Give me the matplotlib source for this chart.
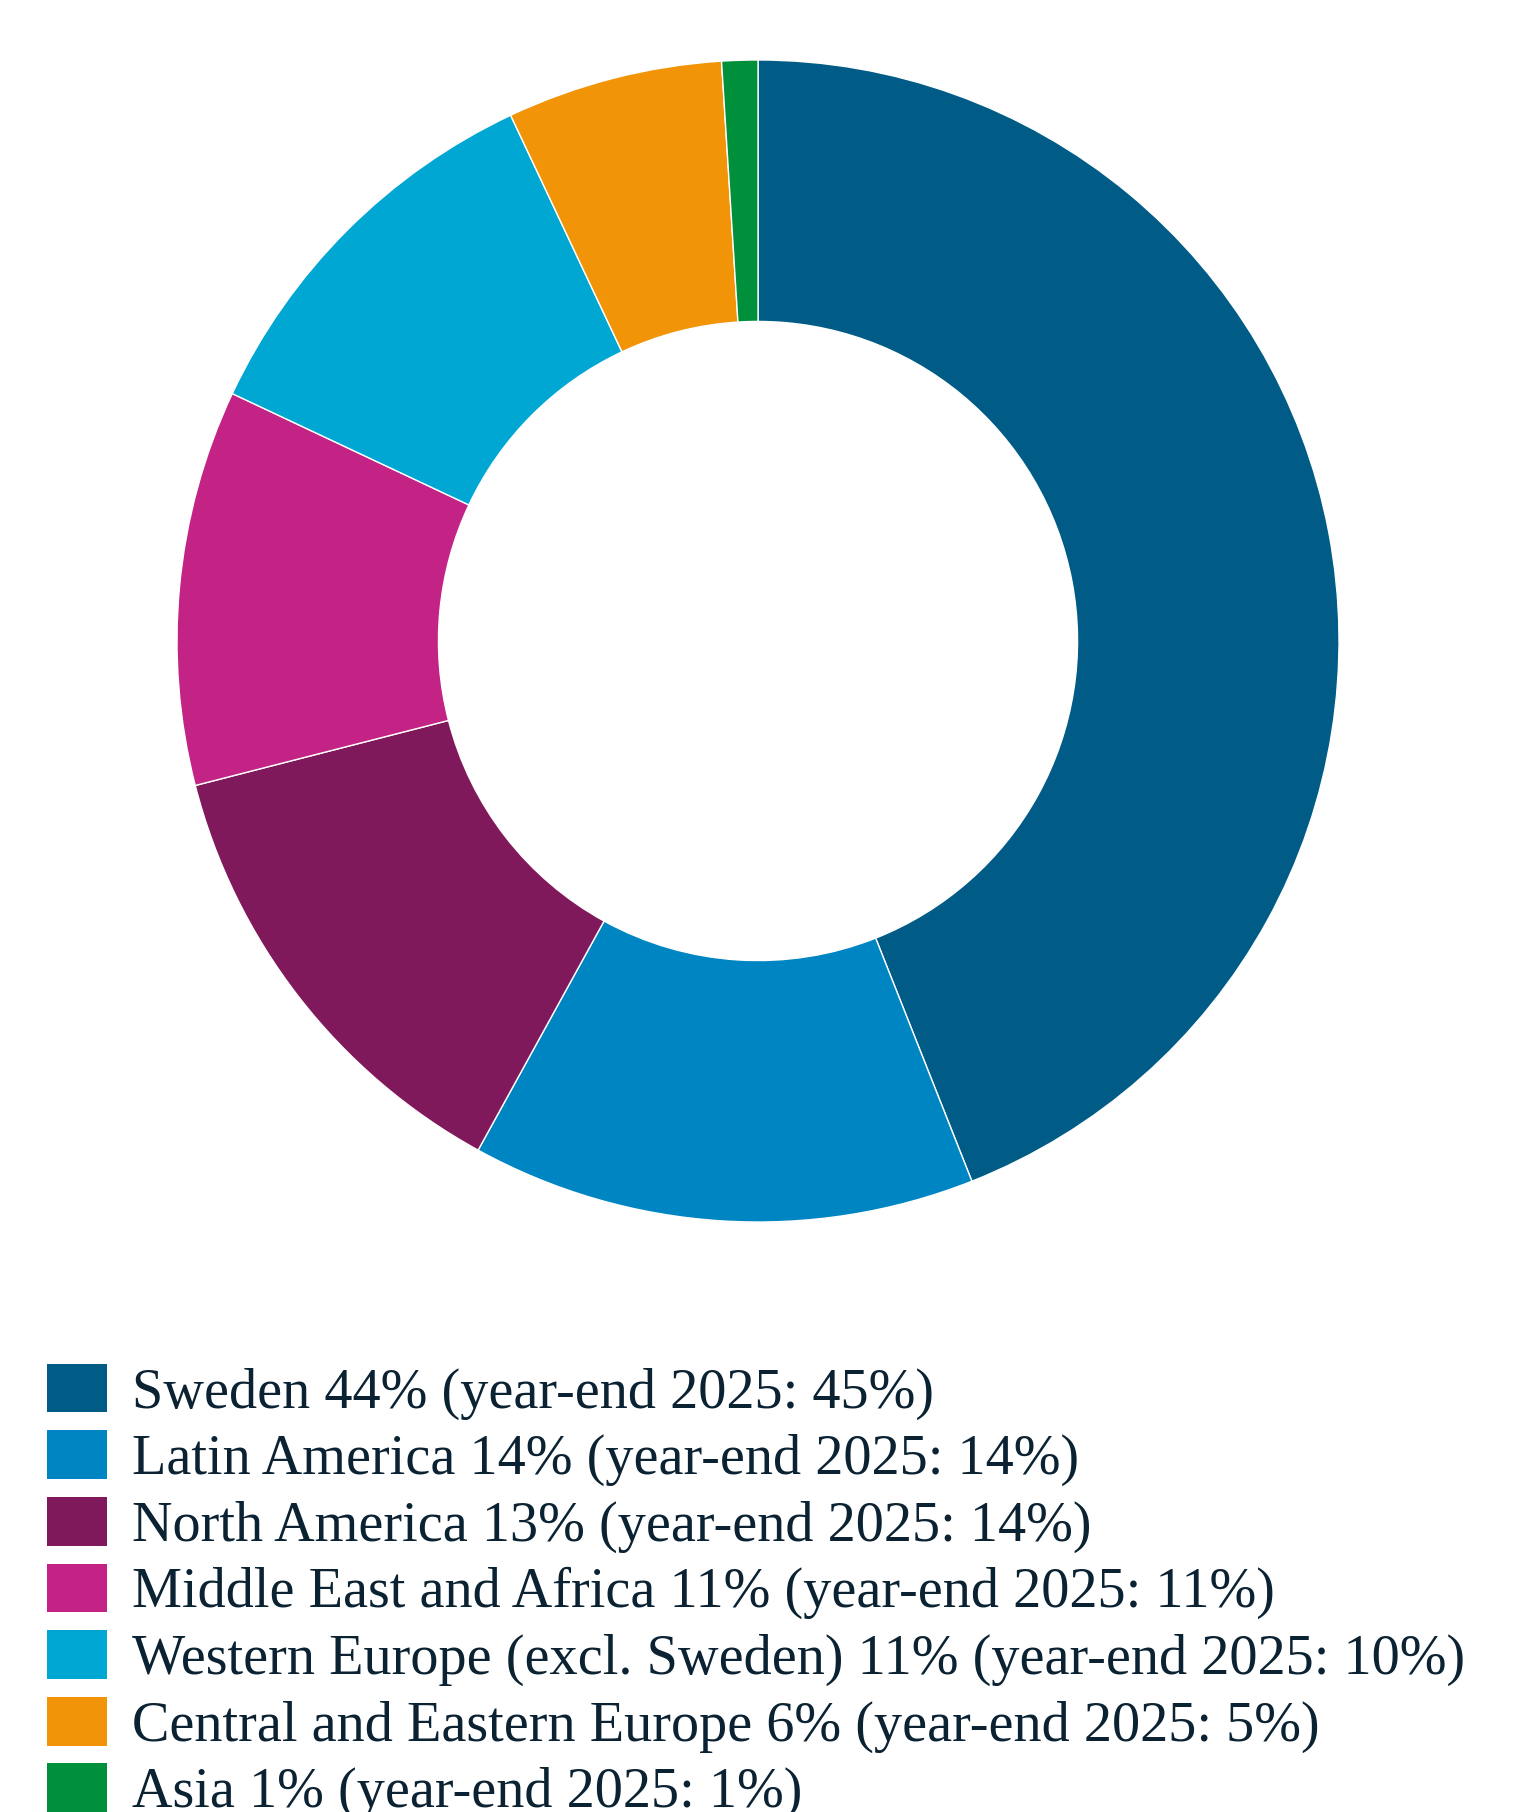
import matplotlib.pyplot as plt

regions = ['Sweden', 'Latin America', 'North America', 'Middle East and Africa',
           'Western Europe (excl. Sweden)', 'Central and Eastern Europe', 'Asia']
shares = [44, 14, 13, 11, 11, 6, 1]
shares_2025 = [45, 14, 14, 11, 10, 5, 1]
colors = ['#005C86', '#0085C3', '#80195C', '#C22384', '#00A7D3', '#F29407', '#00903C']

labels = [f'{r} {s}% (year-end 2025: {p}%)' for r, s, p in zip(regions, shares, shares_2025)]

fig = plt.figure(figsize=(15.18, 18.12), dpi=100)
ax = fig.add_axes([0.1166, 0.3256, 0.7655, 0.6413])

wedges, _ = ax.pie(shares, colors=colors, startangle=90, counterclock=False,
                   radius=1.0,
                   wedgeprops=dict(width=0.45, edgecolor='white', linewidth=1))
ax.set_xlim(-1, 1)
ax.set_ylim(-1, 1)
ax.set_aspect('equal')

fs = 40.5
leg = fig.legend(wedges, labels, loc='upper left', bbox_to_anchor=(0.0125, 0.263),
                 frameon=False, handlelength=1.06, handleheight=0.96,
                 handletextpad=0.45, labelspacing=0.19, borderpad=0,
                 prop={'family': 'Liberation Serif', 'size': fs})
for t in leg.get_texts():
    t.set_color('#0B2233')
for h in leg.legend_handles:
    h.set_edgecolor('none')

plt.savefig('out.png', dpi=100)
